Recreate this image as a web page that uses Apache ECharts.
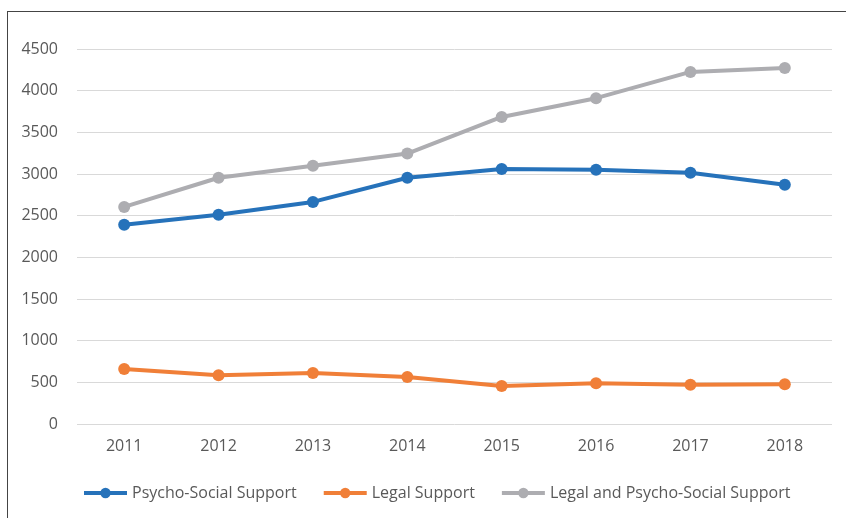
<!DOCTYPE html>
<html>
<head>
<meta charset="utf-8">
<script src="https://cdn.jsdelivr.net/npm/echarts@6/dist/echarts.min.js"></script>
<style>
  html, body { margin: 0; padding: 0; background: #fff; }
  #frame { position: absolute; left: 7px; top: 11px; width: 850px; height: 520px;
           border-left: 1px solid #444; border-top: 1px solid #444; }
  #chart { position: absolute; left: 0; top: 0; width: 846px; height: 518px; }
</style>
</head>
<body>
<div id="frame"></div>
<div id="chart"></div>
<script>
// years along the x axis
const years = ['2011', '2012', '2013', '2014', '2015', '2016', '2017', '2018']

// values
const psychoSocial = [2390, 2510, 2665, 2955, 3060, 3050, 3015, 2870]
const legal = [660, 585, 612, 565, 455, 490, 470, 478]
const legalAndPsycho = [2605, 2955, 3100, 3245, 3685, 3910, 4225, 4272]

const seriesNames = ['Psycho-Social Support', 'Legal Support', 'Legal and Psycho-Social Support']
const seriesColors = ['#2672BA', '#F07F38', '#ADADB1']

const chart = echarts.init(document.getElementById('chart'))

function lineSeries(name, data, color) {
  return {
    name: name,
    type: 'line',
    data: data,
    symbol: 'circle',
    symbolSize: 12,
    lineStyle: { width: 4, color: color },
    itemStyle: { color: color },
    emphasis: { disabled: true }
  }
}

chart.setOption({
  animation: false,
  textStyle: { fontFamily: 'Open Sans', color: '#595959' },
  grid: { left: 77, right: 14, top: 49, bottom: 94, containLabel: false },
  legend: {
    top: 480,
    left: 77,
    itemWidth: 43,
    itemHeight: 13,
    itemGap: 25,
    lineStyle: { width: 4 },
    textStyle: { fontSize: 16, color: '#595959', fontFamily: 'Open Sans' },
    data: seriesNames
  },
  xAxis: {
    type: 'category',
    data: years,
    boundaryGap: true,
    axisLine: { show: false },
    axisTick: { show: false },
    axisLabel: { fontSize: 16, color: '#595959', margin: 14 }
  },
  yAxis: {
    type: 'value',
    min: 0,
    max: 4500,
    interval: 500,
    axisLine: { show: false },
    axisTick: { show: false },
    axisLabel: { fontSize: 16, color: '#595959', margin: 19, formatter: v => String(v) },
    splitLine: { lineStyle: { color: '#d9d9d9', width: 1 } }
  },
  series: [
    lineSeries(seriesNames[0], psychoSocial, seriesColors[0]),
    lineSeries(seriesNames[1], legal, seriesColors[1]),
    lineSeries(seriesNames[2], legalAndPsycho, seriesColors[2])
  ]
})
</script>
</body>
</html>
